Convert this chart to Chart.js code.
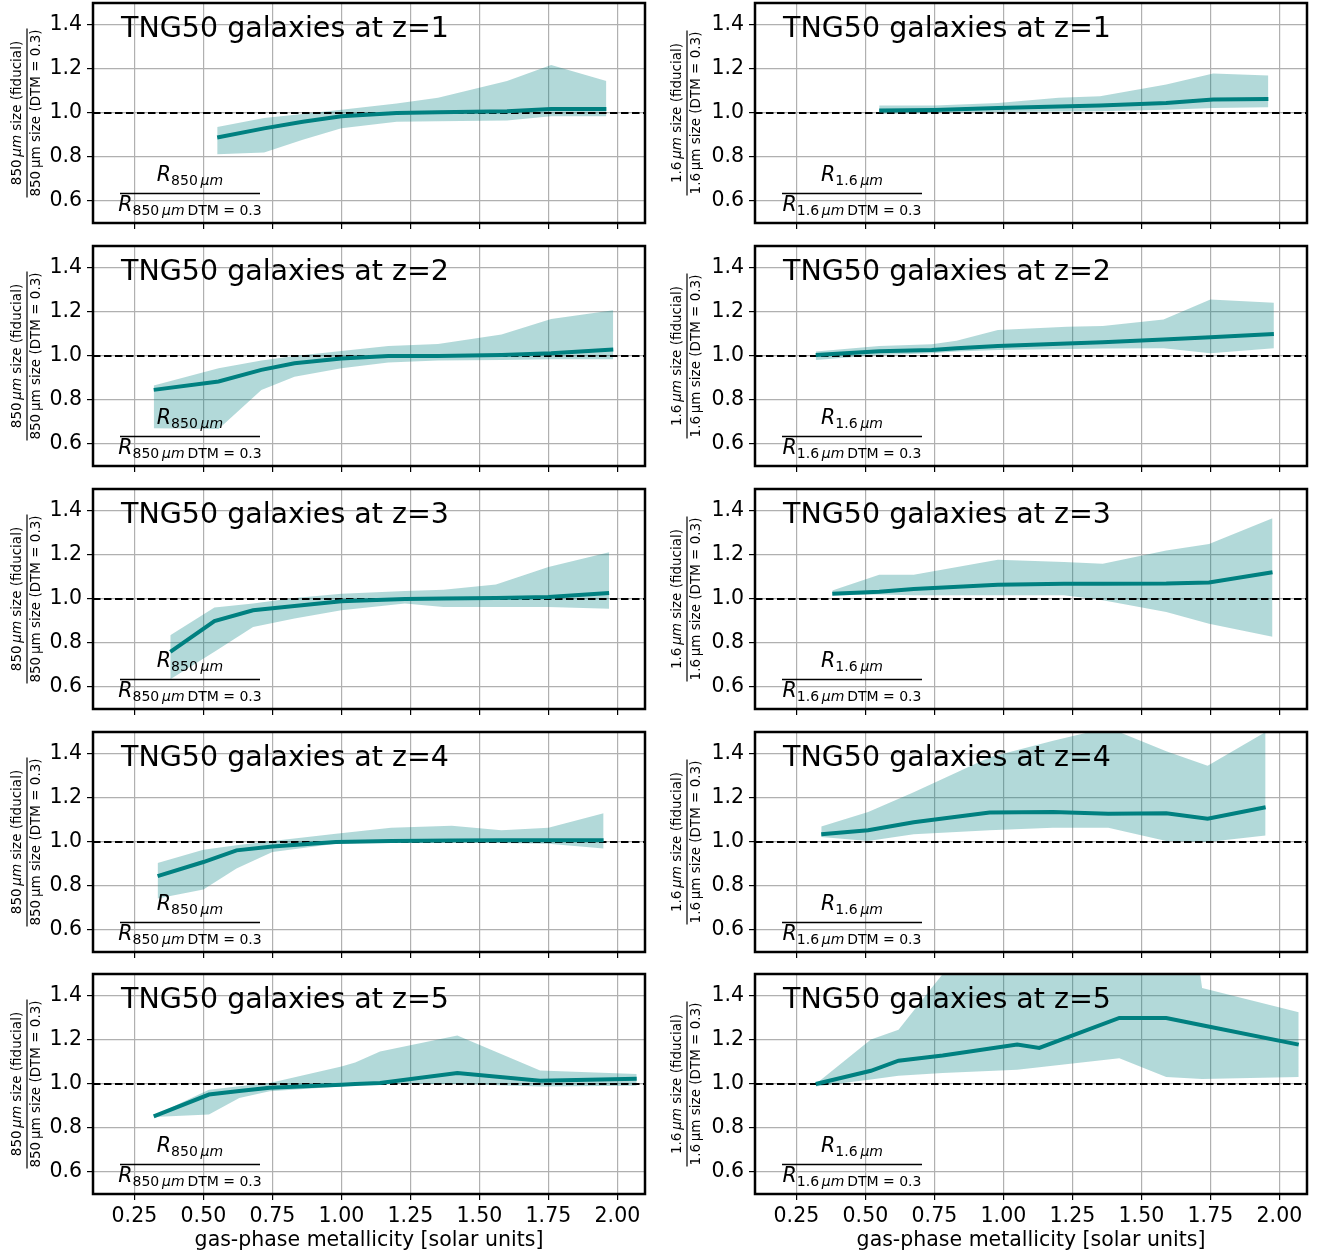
<!DOCTYPE html>
<html>
<head>
<meta charset="utf-8">
<script src="https://cdn.jsdelivr.net/npm/chart.js@4.4.0/dist/chart.umd.min.js"></script>
<style>
  html, body { margin: 0; padding: 0; background: #fff; }
  #wrap { position: relative; width: 1320px; height: 1257px; overflow: hidden; }
  canvas { position: absolute; }
</style>
</head>
<body>
<div id="wrap"></div>
<script>
// --- Axis setup ---
const xTicks = [0.25, 0.5, 0.75, 1.0, 1.25, 1.5, 1.75, 2.0];
const yTicks = [0.6, 0.8, 1.0, 1.2, 1.4];
const xMin = 0.1, xMax = 2.1, yMin = 0.5, yMax = 1.5;
const refLevel = 1.0;
const redshifts = [1, 2, 3, 4, 5];
const xTitle = 'gas-phase metallicity [solar units]';

// --- 850 micron sizes (left column) ---
const x850z1   = [0.55, 0.72, 0.86, 1.00, 1.20, 1.35, 1.60, 1.76, 1.96];
const med850z1 = [0.889, 0.930, 0.960, 0.985, 1.000, 1.003, 1.008, 1.018, 1.018];
const hi850z1  = [0.936, 0.977, 0.995, 1.015, 1.043, 1.069, 1.145, 1.218, 1.145];
const lo850z1  = [0.812, 0.820, 0.878, 0.931, 0.960, 0.963, 0.966, 0.985, 0.985];

const x850z2   = [0.32, 0.555, 0.71, 0.83, 1.00, 1.17, 1.35, 1.58, 1.76, 1.985];
const med850z2 = [0.846, 0.884, 0.937, 0.967, 0.989, 1.000, 1.000, 1.005, 1.012, 1.030];
const hi850z2  = [0.866, 0.944, 0.979, 1.000, 1.023, 1.045, 1.054, 1.098, 1.168, 1.208];
const lo850z2  = [0.672, 0.668, 0.846, 0.906, 0.944, 0.970, 0.979, 0.982, 0.985, 0.985];

const x850z3   = [0.38, 0.54, 0.68, 0.83, 1.00, 1.23, 1.37, 1.56, 1.75, 1.97];
const med850z3 = [0.760, 0.900, 0.949, 0.968, 0.990, 1.000, 1.002, 1.005, 1.009, 1.027];
const hi850z3  = [0.835, 0.961, 0.979, 1.005, 1.024, 1.036, 1.042, 1.066, 1.145, 1.213];
const lo850z3  = [0.635, 0.760, 0.873, 0.911, 0.949, 0.979, 0.964, 0.964, 0.964, 0.956];

const x850z4   = [0.334, 0.50, 0.62, 0.75, 0.98, 1.18, 1.40, 1.58, 1.75, 1.95];
const med850z4 = [0.845, 0.909, 0.962, 0.980, 1.000, 1.005, 1.007, 1.008, 1.008, 1.008];
const hi850z4  = [0.905, 0.965, 0.985, 1.005, 1.038, 1.065, 1.074, 1.053, 1.065, 1.131];
const lo850z4  = [0.743, 0.784, 0.879, 0.955, 0.992, 1.000, 1.000, 0.995, 0.992, 0.970];

const x850z5   = [0.32, 0.52, 0.63, 0.74, 1.00, 1.05, 1.14, 1.42, 1.72, 2.07];
const med850z5 = [0.853, 0.952, 0.968, 0.983, 0.997, 1.000, 1.005, 1.050, 1.015, 1.024];
const hi850z5  = [0.856, 0.974, 0.990, 1.005, 1.080, 1.098, 1.148, 1.220, 1.061, 1.045];
const lo850z5  = [0.850, 0.861, 0.936, 0.967, 0.989, 0.995, 1.000, 1.000, 0.989, 0.992];

// --- 1.6 micron sizes (right column) ---
const x16z1   = [0.55, 0.75, 0.98, 1.20, 1.35, 1.59, 1.76, 1.96];
const med16z1 = [1.011, 1.014, 1.023, 1.030, 1.034, 1.046, 1.061, 1.064];
const hi16z1  = [1.034, 1.034, 1.046, 1.069, 1.076, 1.130, 1.180, 1.171];
const lo16z1  = [0.995, 1.000, 1.005, 1.007, 1.008, 1.015, 1.023, 1.026];

const x16z2   = [0.32, 0.55, 0.74, 0.83, 0.98, 1.23, 1.36, 1.58, 1.75, 1.98];
const med16z2 = [1.005, 1.022, 1.027, 1.035, 1.045, 1.057, 1.063, 1.075, 1.085, 1.100];
const hi16z2  = [1.020, 1.045, 1.053, 1.069, 1.118, 1.133, 1.136, 1.166, 1.257, 1.242];
const lo16z2  = [0.982, 1.005, 1.012, 1.020, 1.027, 1.032, 1.034, 1.035, 1.012, 1.035];

const x16z3   = [0.38, 0.55, 0.675, 0.98, 1.22, 1.36, 1.59, 1.745, 1.975];
const med16z3 = [1.024, 1.033, 1.045, 1.065, 1.069, 1.069, 1.070, 1.075, 1.122];
const hi16z3  = [1.039, 1.110, 1.110, 1.178, 1.168, 1.160, 1.220, 1.250, 1.367];
const lo16z3  = [1.017, 1.021, 1.017, 1.017, 1.017, 0.994, 0.941, 0.888, 0.828];

const x16z4   = [0.34, 0.51, 0.675, 0.95, 1.18, 1.38, 1.59, 1.74, 1.95];
const med16z4 = [1.035, 1.053, 1.090, 1.134, 1.136, 1.128, 1.131, 1.106, 1.158];
const hi16z4  = [1.071, 1.136, 1.226, 1.385, 1.460, 1.520, 1.412, 1.347, 1.500];
const lo16z4  = [1.023, 1.005, 1.035, 1.053, 1.065, 1.065, 1.005, 1.000, 1.030];

const x16z5   = [0.32, 0.52, 0.62, 0.78, 1.05, 1.13, 1.42, 1.59, 1.72, 2.07];
const med16z5 = [1.000, 1.060, 1.106, 1.130, 1.179, 1.164, 1.300, 1.300, 1.267, 1.179];
const hi16z5  = [1.000, 1.202, 1.247, 1.500, 1.750, 1.800, 1.900, 2.600, 1.436, 1.326];
const lo16z5  = [0.989, 1.020, 1.038, 1.050, 1.065, 1.076, 1.117, 1.032, 1.023, 1.032];

const FONT = '"DejaVu Sans", sans-serif';
const TEAL = '#008080';
const BAND = 'rgba(0, 128, 128, 0.3)';
const GRID = '#b0b0b0';
const THIN = '\u2009';

const columns = [
  { wl: '850', left: 0, yAxisW: 93, padR: 15, panels: [
    { x: x850z1, med: med850z1, hi: hi850z1, lo: lo850z1 },
    { x: x850z2, med: med850z2, hi: hi850z2, lo: lo850z2 },
    { x: x850z3, med: med850z3, hi: hi850z3, lo: lo850z3 },
    { x: x850z4, med: med850z4, hi: hi850z4, lo: lo850z4 },
    { x: x850z5, med: med850z5, hi: hi850z5, lo: lo850z5 } ] },
  { wl: '1.6', left: 660, yAxisW: 95, padR: 13, panels: [
    { x: x16z1, med: med16z1, hi: hi16z1, lo: lo16z1 },
    { x: x16z2, med: med16z2, hi: hi16z2, lo: lo16z2 },
    { x: x16z3, med: med16z3, hi: hi16z3, lo: lo16z3 },
    { x: x16z4, med: med16z4, hi: hi16z4, lo: lo16z4 },
    { x: x16z5, med: med16z5, hi: hi16z5, lo: lo16z5 } ] }
];

// row geometry: canvas top / height, plot area is 220px tall in each
const rowTop = [0, 243, 486, 729, 971];
const rowH = [242, 242, 242, 242, 286];
const PAD_TOP = 3, PLOT_H = 220;

// draw a run of [text, style] pieces; style 'i' = italic
function runWidth(ctx, parts, size) {
  let w = 0;
  parts.forEach(([t, s]) => {
    ctx.font = `${s === 'i' ? 'italic ' : ''}${size}px ${FONT}`;
    w += ctx.measureText(t).width;
  });
  return w;
}
function drawRun(ctx, parts, size, x, y) {
  parts.forEach(([t, s]) => {
    ctx.font = `${s === 'i' ? 'italic ' : ''}${size}px ${FONT}`;
    ctx.fillText(t, x, y);
    x += ctx.measureText(t).width;
  });
}

// R with subscript, centred on cx
function drawR(ctx, cx, y, sub) {
  ctx.font = `italic 20.5px ${FONT}`;
  const wR = ctx.measureText('R').width;
  const wS = runWidth(ctx, sub, 14);
  const x0 = cx - (wR + wS) / 2;
  ctx.font = `italic 20.5px ${FONT}`;
  ctx.fillText('R', x0, y);
  drawRun(ctx, sub, 14, x0 + wR, y + 3.3);
}

const decor = {
  id: 'decor',
  afterDraw(chart, args, o) {
    const ctx = chart.ctx, a = chart.chartArea;
    ctx.save();
    ctx.fillStyle = '#000';
    ctx.strokeStyle = '#000';
    ctx.textAlign = 'left';
    ctx.textBaseline = 'alphabetic';

    // panel title
    ctx.font = `28.5px ${FONT}`;
    ctx.fillText(`TNG50 galaxies at z=${o.z}`, a.left + 28, a.top + 33.5);

    // ratio annotation, bottom left
    const cx = a.left + 97;
    ctx.lineWidth = 1.5;
    ctx.beginPath();
    ctx.moveTo(a.left + 27, a.top + 190.4);
    ctx.lineTo(a.left + 167, a.top + 190.4);
    ctx.stroke();
    drawR(ctx, cx, a.top + 178.4, [[o.wl + THIN, 'n'], ['μm', 'i']]);
    drawR(ctx, cx, a.top + 208.4, [[o.wl + THIN, 'n'], ['μm', 'i'], [THIN + 'DTM = 0.3', 'n']]);

    // y label as a stacked fraction
    const num = [[o.wl + THIN, 'n'], ['μm', 'i'], [' size (fiducial)', 'n']];
    const den = [[o.wl + THIN + 'μm size (DTM = 0.3)', 'n']];
    const fs = 13.5;
    const wN = runWidth(ctx, num, fs), wD = runWidth(ctx, den, fs);
    ctx.translate(o.colLeft + 27, (a.top + a.bottom) / 2);
    ctx.rotate(-Math.PI / 2);
    ctx.textBaseline = 'middle';
    drawRun(ctx, num, fs, -wN / 2, -10);
    drawRun(ctx, den, fs, -wD / 2, 9);
    const wb = Math.max(wN, wD) / 2 + 1;
    ctx.lineWidth = 1.2;
    ctx.beginPath();
    ctx.moveTo(-wb, 0);
    ctx.lineTo(wb, 0);
    ctx.stroke();
    ctx.setTransform(1, 0, 0, 1, 0, 0);

    // frame
    ctx.lineWidth = 2.5;
    ctx.strokeRect(a.left, a.top, a.right - a.left, a.bottom - a.top);
    ctx.restore();
  }
};

function pts(xs, ys) {
  return xs.map((x, i) => ({ x: x, y: ys[i] }));
}

const wrap = document.getElementById('wrap');

columns.forEach(col => {
  col.panels.forEach((p, r) => {
    const isBottom = r === redshifts.length - 1;
    const cv = document.createElement('canvas');
    cv.width = 660;
    cv.height = rowH[r];
    cv.style.left = col.left + 'px';
    cv.style.top = rowTop[r] + 'px';
    wrap.appendChild(cv);

    const xAxisH = rowH[r] - PAD_TOP - PLOT_H;

    new Chart(cv.getContext('2d'), {
      type: 'line',
      data: {
        datasets: [
          { data: pts(p.x, p.med), borderColor: TEAL, borderWidth: 4, pointRadius: 0, fill: false, order: 0 },
          { data: [{ x: xMin, y: refLevel }, { x: xMax, y: refLevel }], borderColor: '#000', borderWidth: 2,
            borderDash: [7.5, 3.5], pointRadius: 0, fill: false, order: 1 },
          { data: pts(p.x, p.hi), borderColor: 'rgba(0,0,0,0)', borderWidth: 0, pointRadius: 0,
            backgroundColor: BAND, fill: '+1', order: 2 },
          { data: pts(p.x, p.lo), borderColor: 'rgba(0,0,0,0)', borderWidth: 0, pointRadius: 0, fill: false, order: 3 }
        ]
      },
      options: {
        responsive: false,
        animation: false,
        devicePixelRatio: 1,
        layout: { padding: { top: PAD_TOP, right: col.padR, left: 0, bottom: 0 } },
        elements: { line: { tension: 0 } },
        plugins: {
          legend: { display: false },
          tooltip: { enabled: false },
          decor: { z: redshifts[r], wl: col.wl, colLeft: 0 }
        },
        scales: {
          x: {
            type: 'linear', min: xMin, max: xMax,
            afterBuildTicks: s => { s.ticks = xTicks.map(v => ({ value: v })); },
            afterFit: s => { s.height = xAxisH; s.paddingLeft = 0; s.paddingRight = 0; },
            border: { display: false },
            grid: { color: GRID, lineWidth: 1.2, drawTicks: true, tickLength: 6, tickColor: '#000', tickWidth: 1.2 },
            ticks: { display: isBottom, autoSkip: false, maxRotation: 0, padding: 4, color: '#000',
                     font: { family: FONT, size: 20.5 }, callback: v => v.toFixed(2) },
            title: { display: isBottom, text: xTitle, color: '#000', font: { family: FONT, size: 20.5 },
                     padding: { top: 0, bottom: 4 } }
          },
          y: {
            type: 'linear', min: yMin, max: yMax,
            afterBuildTicks: s => { s.ticks = yTicks.map(v => ({ value: v })); },
            afterFit: s => { s.width = col.yAxisW; s.paddingTop = 0; s.paddingBottom = 0; },
            border: { display: false },
            grid: { color: GRID, lineWidth: 1.2, drawTicks: true, tickLength: 6, tickColor: '#000', tickWidth: 1.2 },
            ticks: { autoSkip: false, padding: 5, color: '#000',
                     font: { family: FONT, size: 20.5 }, callback: v => v.toFixed(1) }
          }
        }
      },
      plugins: [decor]
    });
  });
});
</script>
</body>
</html>
